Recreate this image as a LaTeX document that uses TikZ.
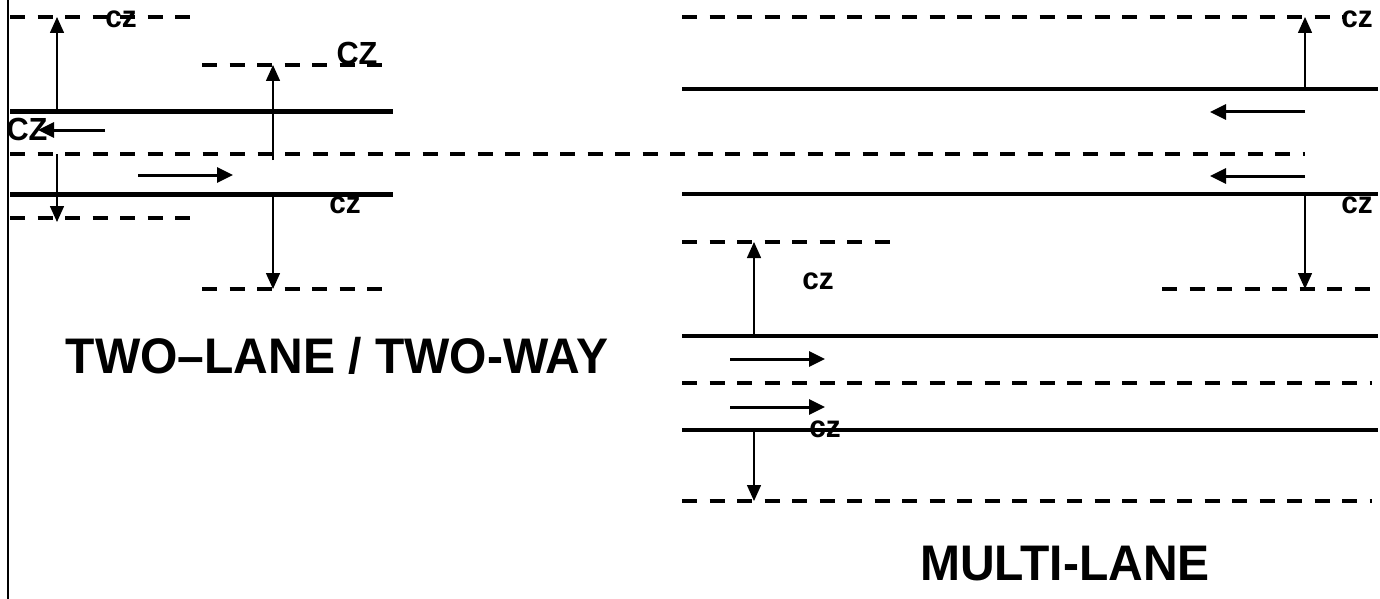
\documentclass[tikz,border=0pt]{standalone}
\usepackage{fontspec}
\setmainfont{Liberation Sans}
\newfontfamily\labfont[FakeStretch=0.96]{Liberation Sans}
\usetikzlibrary{arrows.meta}
\begin{document}
\begin{tikzpicture}[x=1pt,y=-1pt,
  dashline/.style={line width=4pt, dash pattern=on 15pt off 12.5pt},
  roadL/.style={line width=5pt},
  roadR/.style={line width=4pt},
  dim/.style={line width=1.5pt,-{Triangle[length=16pt,width=14pt]}},
  dir/.style={line width=3pt,-{Triangle[length=16pt,width=15pt]}},
  lab/.style={font=\labfont\bfseries\fontsize{31}{31}\selectfont, inner sep=0pt, anchor=base},
  labU/.style={font=\labfont\bfseries\fontsize{32}{32}\selectfont, inner sep=0pt, anchor=base},
  title/.style={font=\labfont\bfseries\fontsize{50}{50}\selectfont, inner sep=0pt, anchor=base}]
\useasboundingbox (0,0) rectangle (1380,599);
% left border
\draw[line width=2pt] (8,0) -- (8,599);
% ---------- two-lane / two-way ----------
\draw[dashline] (10,17) -- (195,17);
\draw[dashline] (202,65) -- (385,65);
\draw[dashline] (10,154) -- (1305,154);
\draw[dashline] (10,218) -- (195,218);
\draw[dashline] (202,289) -- (385,289);
\draw[roadL] (10,112) -- (393,112);
\draw[roadL] (10,194) -- (393,194);
% dimension arrows
\coordinate (a1s) at (57,112); \coordinate (a1e) at (57,17);
\coordinate (a2s) at (273,160); \coordinate (a2e) at (273,65);
\coordinate (a3s) at (57,154); \coordinate (a3e) at (57,222);
\coordinate (a4s) at (273,194); \coordinate (a4e) at (273,289);
\draw[dim] (a1s) -- (a1e);
\draw[dim] (a2s) -- (a2e);
\draw[dim] (a3s) -- (a3e);
\draw[dim] (a4s) -- (a4e);
% direction arrows
\coordinate (d1s) at (105,130); \coordinate (d1e) at (38,130);
\coordinate (d2s) at (138,175); \coordinate (d2e) at (233,175);
\draw[dir] (d1s) -- (d1e);
\draw[dir] (d2s) -- (d2e);
% labels
\node[lab] (czA) at (121,28) {cz};
\node[labU] (czB) at (357,65) {CZ};
\node[labU] (czC) at (27,140) {CZ};
\node[lab] (czD) at (345,213) {cz};
\node[title] (t1) at (337,373) {TWO–LANE / TWO-WAY};
% ---------- multi-lane ----------
\draw[dashline] (682,17) -- (1345,17);
\draw[dashline] (682,242) -- (893,242);
\draw[dashline] (1162,289) -- (1375,289);
\draw[dashline] (682,383) -- (1372,383);
\draw[dashline] (682,501) -- (1372,501);
\draw[roadR] (682,89) -- (1378,89);
\draw[roadR] (682,194) -- (1378,194);
\draw[roadR] (682,336) -- (1378,336);
\draw[roadR] (682,430) -- (1378,430);
\coordinate (a5s) at (1305,89); \coordinate (a5e) at (1305,17);
\coordinate (a6s) at (1305,194); \coordinate (a6e) at (1305,289);
\coordinate (a7s) at (754,336); \coordinate (a7e) at (754,242);
\coordinate (a8s) at (754,430); \coordinate (a8e) at (754,501);
\draw[dim] (a5s) -- (a5e);
\draw[dim] (a6s) -- (a6e);
\draw[dim] (a7s) -- (a7e);
\draw[dim] (a8s) -- (a8e);
\coordinate (d3s) at (1305,112); \coordinate (d3e) at (1210,112);
\coordinate (d4s) at (1305,176); \coordinate (d4e) at (1210,176);
\coordinate (d5s) at (730,359); \coordinate (d5e) at (825,359);
\coordinate (d6s) at (730,407); \coordinate (d6e) at (825,407);
\draw[dir] (d3s) -- (d3e);
\draw[dir] (d4s) -- (d4e);
\draw[dir] (d5s) -- (d5e);
\draw[dir] (d6s) -- (d6e);
\node[lab] (czE) at (1357,28) {cz};
\node[lab] (czF) at (1357,213) {cz};
\node[lab] (czG) at (818,289) {cz};
\node[lab] (czH) at (825,437) {cz};
\node[title] (t2) at (1065,580) {MULTI-LANE};
\end{tikzpicture}
\end{document}
